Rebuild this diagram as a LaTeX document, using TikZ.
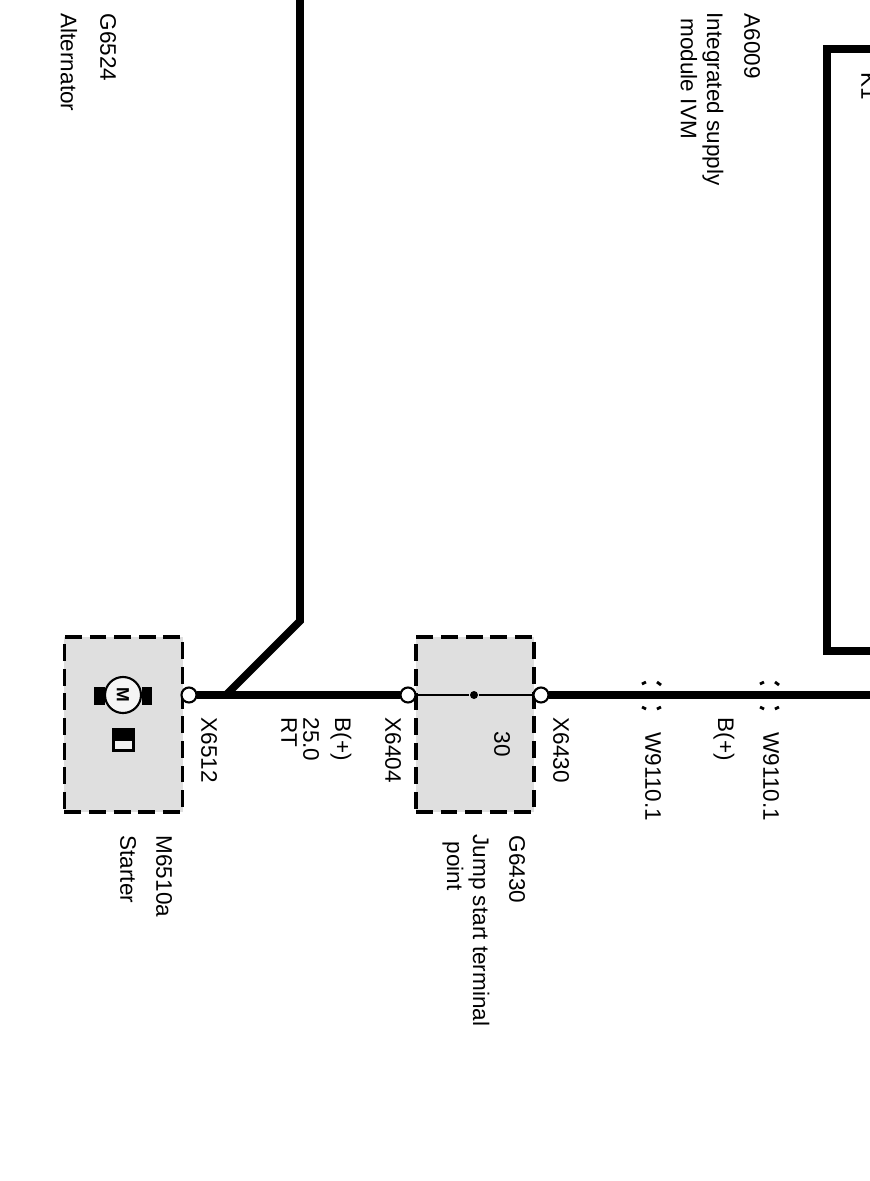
\documentclass[tikz,border=0pt]{standalone}
\usepackage{fontspec}
\setmainfont{Liberation Sans}
\tikzset{
    tag/.style={rotate=-90, anchor=west, inner sep=0pt, font=\fontsize{6.4}{7.7}\selectfont},
    wire/.style={line width=2.2pt, line join=miter},
    thinwire/.style={line width=0.6pt},
    unitbox/.style={draw, fill=gray!25, line width=1.1pt, dash pattern=on 4.8pt off 2.2pt, minimum width=1.18cm, minimum height=1.75cm, inner sep=0pt},
    terminal/.style={circle, draw, fill=white, line width=0.6pt, minimum size=0.15cm, inner sep=0pt, outer sep=0pt},
    motor/.style={circle, draw, fill=gray!8, line width=0.6pt, minimum size=0.36cm, inner sep=0pt, rotate=-90, font=\fontsize{5}{6}\selectfont\bfseries}
}
\begin{document}
\begin{tikzpicture}[x=0.01cm, y=-0.01cm]
        \useasboundingbox (0,0) rectangle (869,1181);

        % Gray boxes
        \node[unitbox] (starter) at (123.5,724.5) {};
        \node[unitbox] (jump) at (475,724.5) {};

        % Motor symbol
        \fill (94,687) rectangle (105,705);
        \fill (142,687) rectangle (152,705);
        \node[motor] (motorsym) at (123,695) {M};
        \fill (112,728) rectangle (135,752);
        \fill[gray!10] (115,741) rectangle (132,749);

        % Terminals on the main line
        \node[terminal] (x6512) at (189,695) {};
        \node[terminal] (x6404) at (408,695) {};
        \node[terminal] (x6430) at (541,695) {};
        \node[circle, fill, inner sep=0pt, minimum size=0.08cm] (stud) at (474,695) {};
        \coordinate (fork) at (226,695);
        \coordinate (bend) at (300,621);
        \coordinate (alttop) at (300,-10);
        \coordinate (lineend) at (880,695);

        % Main line, thick outside the jump start box
        \draw[wire] (x6512) -- (x6404);
        \draw[wire] (fork) -- (bend) -- (alttop);
        \draw[wire] (x6430) -- (lineend);
        \draw[thinwire] (x6404) -- (stud) -- (x6430);

        % Integrated supply module outline
        \coordinate (ivmtop) at (880,49);
        \coordinate (ivmtl) at (827,49);
        \coordinate (ivmbl) at (827,651);
        \coordinate (ivmbot) at (880,651);
        \draw[wire] (ivmtop) -- (ivmtl) -- (ivmbl) -- (ivmbot);

        % Connector marks
        \foreach \xm in {652,770} {
            \draw[line width=0.8pt] (\xm-10,684) -- (\xm-6,682);
            \draw[line width=0.8pt] (\xm+5,682) -- (\xm+9,685);
            \draw[line width=0.8pt] (\xm-10,707) -- (\xm-6,709);
            \draw[line width=0.8pt] (\xm+5,709) -- (\xm+9,707);
        }

        % Labels
        \node[tag] (altid) at (108,13) {G6524};
        \node[tag] (altname) at (69,13) {Alternator};
        \node[tag] (ivmid) at (752,13) {A6009};
        \node[tag] (ivmname) at (713,12) {Integrated supply};
        \node[tag] (ivmname2) at (689,18) {module IVM};
        \node[tag] (ivmpin) at (869,72) {K1};
        \node[tag] (x6512lbl) at (209,717) {X6512};
        \node[tag] (wirefn) at (341,717) {B(+)};
        \node[tag] (wiresize) at (311,717) {25.0};
        \node[tag] (wirecol) at (289,717) {RT};
        \node[tag] (x6404lbl) at (393,717) {X6404};
        \node[tag] (pin30) at (502,731) {30};
        \node[tag] (x6430lbl) at (561,717) {X6430};
        \node[tag] (w1) at (653,732) {W9110.1};
        \node[tag] (bplus) at (724,717) {B(+)};
        \node[tag] (w2) at (771,732) {W9110.1};
        \node[tag] (startid) at (164,835) {M6510a};
        \node[tag] (startname) at (128,835) {Starter};
        \node[tag] (jumpid) at (517,835) {G6430};
        \node[tag] (jumpname) at (479,834) {Jump start terminal};
        \node[tag] (jumpname2) at (453,841) {point};
    \end{tikzpicture}
\end{document}
